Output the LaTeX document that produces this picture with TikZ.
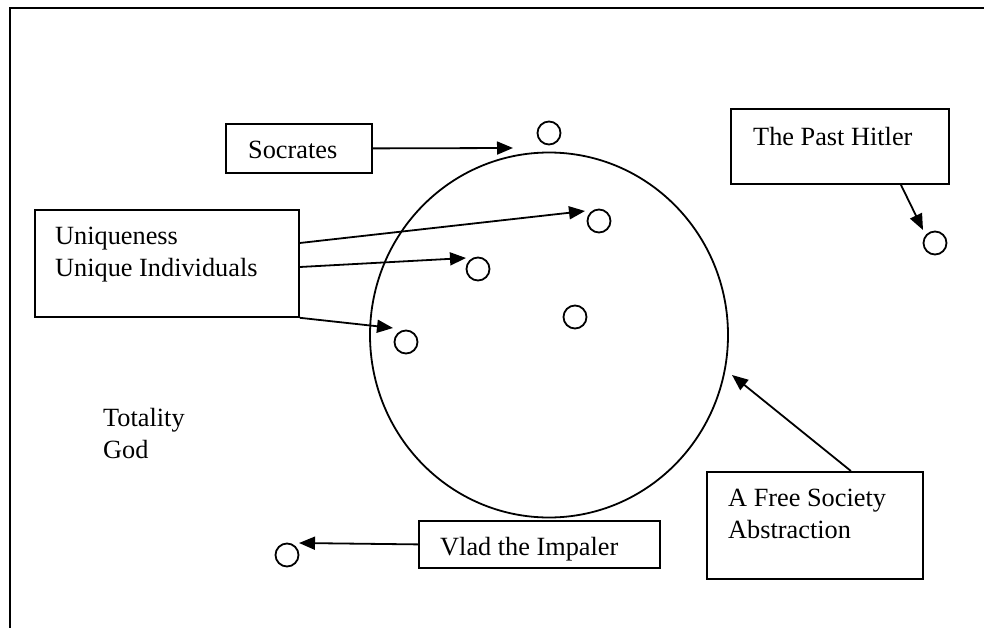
\documentclass[tikz,border=0pt]{standalone}
\usepackage{fontspec}
\setmainfont{Liberation Serif}
\usetikzlibrary{arrows.meta,shapes.geometric}
\begin{document}
\begin{tikzpicture}[x=1pt,y=-1pt,
  every node/.style={font=\fontsize{26.3}{31.5}\selectfont},
  box/.style={draw, line width=1.8pt, inner sep=0pt, anchor=north west},
  dot/.style={draw, circle, line width=1.8pt, minimum size=23pt, inner sep=0pt},
  lbl/.style={anchor=base west, inner sep=0pt, align=left},
  link/.style={line width=1.8pt, -{Triangle[length=16pt,width=13pt]}}]
\useasboundingbox (0,0) rectangle (984,628);
% outer frame, open at the right and bottom
\draw[line width=2.5pt] (10,640) -- (10,8) -- (995,8);

% the society
\node[draw, ellipse, line width=1.8pt, minimum width=358pt, minimum height=365pt, inner sep=0pt] (society) at (549,335) {};

% individuals
\node[dot] (cSoc) at (549,133) {};
\node[dot] (c1) at (599,221) {};
\node[dot] (c2) at (478,269) {};
\node[dot] (c3) at (406,342) {};
\node[dot] (c4) at (575,317) {};
\node[dot] (cHit) at (935,243) {};
\node[dot] (cVlad) at (287,555) {};

% label boxes
\node[box, minimum width=146pt, minimum height=49pt] (socrates) at (225,123) {};
\node[box, minimum width=264pt, minimum height=107pt] (uniq) at (34,209) {};
\node[box, minimum width=218pt, minimum height=75pt] (hitler) at (730,108) {};
\node[box, minimum width=216pt, minimum height=107pt] (free) at (706,471) {};
\node[box, minimum width=241pt, minimum height=47pt] (vlad) at (418,520) {};

% texts (multi-line labels are placed by their last baseline)
\node[lbl] (socT) at (248,159) {Socrates};
\node[lbl] (uniqT) at (55,276) {Uniqueness\\Unique Individuals};
\node[lbl] (hitT) at (753,146) {The Past Hitler};
\node[lbl] (freeT) at (728,538) {A Free Society\\Abstraction};
\node[lbl] (totT) at (103,458) {Totality\\God};
\node[lbl] (vladT) at (440,555) {Vlad the Impaler};

% arrow tips
\coordinate (socTip) at (513,148);
\coordinate (t1) at (585,211);
\coordinate (t2) at (466,258);
\coordinate (t3) at (393,328);
\coordinate (hitTip) at (923,230);
\coordinate (freeTip) at (732,375);
\coordinate (vladTip) at (299,543);

% connectors
\draw[link] (socrates.east) -- (socTip);
\draw[link] ([yshift=-34pt]uniq.north east) -- (t1);
\draw[link] ([yshift=-58pt]uniq.north east) -- (t2);
\draw[link] (uniq.south east) -- (t3);
\draw[link] ([xshift=61pt]hitler.south) -- (hitTip);
\draw[link] ([xshift=36pt]free.north) -- (freeTip);
\draw[link] (vlad.west) -- (vladTip);
\end{tikzpicture}
\end{document}
